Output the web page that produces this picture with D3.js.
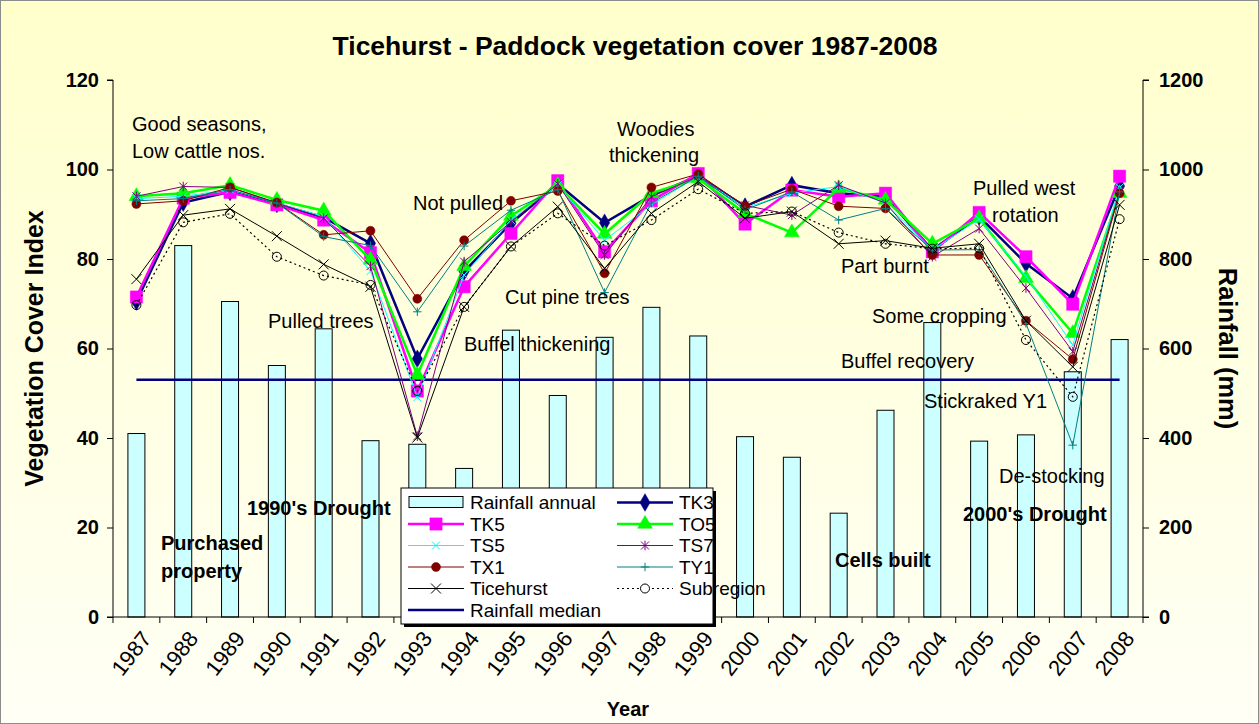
<!DOCTYPE html>
<html>
<head>
<meta charset="utf-8">
<script src="https://cdn.jsdelivr.net/npm/d3@7"></script>
<style>
  body { margin: 0; background: #fff; }
  svg { display: block; }
  text { font-family: "Liberation Sans", Arial, sans-serif; fill: #000; }
</style>
</head>
<body>
<div id="chart"></div>
<script>
// --- Data ---
const years = ['1987','1988','1989','1990','1991','1992','1993','1994','1995','1996','1997',
               '1998','1999','2000','2001','2002','2003','2004','2005','2006','2007','2008'];

// annual rainfall (mm), right axis
const rainfall = [410, 830, 705, 562, 644, 394, 386, 332, 641, 495, 625,
                  692, 628, 403, 357, 232, 462, 658, 393, 407, 548, 620];
const rainfallMedian = 530;

// vegetation cover index, left axis
const tk3 = [70.5, 92.6, 95.0, 92.3, 89.3, 83.5, 57.7, 77.2, 88.0, 96.8, 88.1,
             94.2, 98.5, 91.7, 96.5, 94.7, 93.9, 82.0, 89.5, 79.0, 71.2, 96.3];
const tk5 = [71.5, 93.6, 94.9, 92.1, 88.7, 81.4, 50.5, 73.8, 85.7, 97.5, 81.6,
             93.0, 99.1, 87.8, 95.4, 93.9, 94.7, 81.6, 90.4, 80.5, 69.9, 98.5];
const to5 = [94.0, 94.7, 96.5, 93.2, 90.8, 79.8, 54.1, 78.4, 89.6, 96.5, 85.6,
             94.7, 98.0, 90.2, 85.9, 95.8, 93.2, 83.4, 89.1, 75.7, 63.4, 94.7];
const ts5 = [93.5, 94.0, 95.5, 92.5, 89.5, 77.3, 49.1, 76.4, 88.7, 96.5, 84.2,
             92.1, 98.5, 91.5, 94.7, 96.2, 92.5, 82.0, 88.9, 76.1, 60.8, 96.0];
const ts7 = [94.0, 96.2, 96.0, 92.5, 89.1, 78.4, 40.4, 79.4, 88.3, 96.8, 80.9,
             93.9, 98.5, 92.0, 89.8, 96.5, 92.5, 80.5, 86.8, 73.5, 59.3, 95.0];
const tx1 = [92.3, 93.0, 96.0, 92.6, 85.4, 86.3, 71.1, 84.2, 93.0, 95.2, 76.8,
             96.0, 99.0, 91.8, 95.6, 91.8, 91.3, 80.9, 80.9, 66.2, 57.6, 94.7];
const ty1 = [93.0, 93.5, 95.5, 92.5, 85.0, 83.0, 68.2, 82.9, 90.9, 95.5, 72.5,
             92.5, 98.5, 91.0, 95.0, 88.7, 91.3, 82.0, 82.1, 65.6, 38.4, 95.0];
const ticehurst = [75.5, 89.8, 91.2, 85.1, 78.8, 73.8, 40.1, 69.3, 82.8, 91.7, 77.9,
                   90.2, 97.3, 89.1, 90.6, 83.4, 84.1, 82.4, 83.4, 66.2, 55.9, 92.1];
const subregion = [69.7, 88.2, 90.1, 80.5, 76.3, 74.2, 50.5, 69.3, 82.8, 90.2, 83.0,
                   88.7, 95.6, 90.2, 90.6, 85.9, 83.4, 82.3, 82.4, 61.9, 49.2, 88.9];

const leftTicks = [0, 20, 40, 60, 80, 100, 120];
const rightTicks = [0, 200, 400, 600, 800, 1000, 1200];

// text notes placed on the chart: [text, x, baseline y, bold]
const notes = [
  ['Good seasons,', 132, 131, false],
  ['Low cattle nos.', 132, 158, false],
  ['Pulled trees', 268, 328, false],
  ['Not pulled', 413, 210, false],
  ['Woodies', 617, 136, false],
  ['thickening', 609, 162, false],
  ['Cut pine trees', 505, 304, false],
  ['Buffel thickening', 464, 351, false],
  ['Pulled west', 973, 195, false],
  ['rotation', 992, 222, false],
  ['Part burnt', 841, 273, false],
  ['Some cropping', 872, 323, false],
  ['Buffel recovery', 841, 368, false],
  ['Stickraked Y1', 924, 408, false],
  ['De-stocking', 999, 483, false],
  ['Purchased', 161, 550, true],
  ['property', 161, 578, true],
  ['1990\'s Drought', 247, 515, true],
  ['Cells built', 835, 567, true],
  ['2000\'s Drought', 963, 521, true],
];

// --- Marker shapes (custom symbol types) ---
const symX = { draw(ctx, size) { const r = Math.sqrt(size) / 2;
  ctx.moveTo(-r, -r); ctx.lineTo(r, r); ctx.moveTo(-r, r); ctx.lineTo(r, -r); } };
const symPlus = { draw(ctx, size) { const r = Math.sqrt(size) / 2;
  ctx.moveTo(-r, 0); ctx.lineTo(r, 0); ctx.moveTo(0, -r); ctx.lineTo(0, r); } };
const symStar = { draw(ctx, size) { const r = Math.sqrt(size) / 2;
  ctx.moveTo(-r, -r); ctx.lineTo(r, r); ctx.moveTo(-r, r); ctx.lineTo(r, -r);
  ctx.moveTo(0, -r * 1.2); ctx.lineTo(0, r * 1.2); } };

// series styling
const series = [
  { name: 'TK3', values: tk3, color: '#000080', width: 2.5, sym: d3.symbolDiamond, size: 90, fill: true },
  { name: 'TK5', values: tk5, color: '#FF00FF', width: 2.5, sym: d3.symbolSquare, size: 150, fill: true },
  { name: 'TO5', values: to5, color: '#00FF00', width: 2.5, sym: d3.symbolTriangle, size: 95, fill: true },
  { name: 'TS5', values: ts5, color: '#00FFFF', width: 1, sym: symX, size: 64, fill: false },
  { name: 'TS7', values: ts7, color: '#800080', width: 1, sym: symStar, size: 64, fill: false },
  { name: 'TX1', values: tx1, color: '#800000', width: 1, sym: d3.symbolCircle, size: 64, fill: true },
  { name: 'TY1', values: ty1, color: '#008080', width: 1, sym: symPlus, size: 72, fill: false },
  { name: 'Ticehurst', values: ticehurst, color: '#000000', width: 1, sym: symX, size: 100, fill: false },
  { name: 'Subregion', values: subregion, color: '#000000', width: 1.2, sym: d3.symbolCircle, size: 64, fill: false, dash: '2,3' },
];

const W = 1259, H = 724;
const margin = { top: 80, right: 116, bottom: 107, left: 113 };

const svg = d3.select('#chart').append('svg').attr('width', W).attr('height', H);

// background gradient + frame
const grad = svg.append('defs').append('linearGradient')
  .attr('id', 'bg').attr('x1', 0).attr('y1', 0).attr('x2', 0).attr('y2', 1);
grad.append('stop').attr('offset', '0%').attr('stop-color', '#FFFFCC');
grad.append('stop').attr('offset', '100%').attr('stop-color', '#FFFFF6');
svg.append('rect').attr('x', 0.5).attr('y', 0.5).attr('width', W - 1).attr('height', H - 1)
  .attr('fill', 'url(#bg)').attr('stroke', '#8c8c8c');

// scales
const x = d3.scaleBand().domain(years).range([margin.left, W - margin.right]);
const y = d3.scaleLinear().domain([0, 120]).range([H - margin.bottom, margin.top]);
const yR = d3.scaleLinear().domain([0, 1200]).range([H - margin.bottom, margin.top]);
const cx = d => x(d) + x.bandwidth() / 2;

// --- rainfall bars ---
const barW = 17;
svg.append('g').selectAll('rect').data(years).join('rect')
  .attr('x', d => cx(d) - barW / 2)
  .attr('y', (d, i) => yR(rainfall[i]))
  .attr('width', barW)
  .attr('height', (d, i) => yR(0) - yR(rainfall[i]))
  .attr('fill', '#CCFFFF').attr('stroke', '#000').attr('stroke-width', 1);

// --- axes ---
const axisFont = g => g.selectAll('text')
  .style('font-size', '20px').style('font-weight', 'bold');

svg.append('g').attr('transform', `translate(${margin.left},0)`)
  .call(d3.axisLeft(y).tickValues(leftTicks).tickSize(6).tickPadding(8))
  .call(axisFont)
  .call(g => g.select('.domain').attr('d', `M-6,${y(120)}H0V${y(0)}H-6`));

svg.append('g').attr('transform', `translate(${W - margin.right},0)`)
  .call(d3.axisRight(yR).tickValues(rightTicks).tickFormat(d3.format('d')).tickSize(6).tickPadding(10))
  .call(axisFont)
  .call(g => g.select('.domain').attr('d', `M6,${yR(1200)}H0V${yR(0)}H6`));

// bottom axis: ticks at category edges, labels rotated
const xAxisG = svg.append('g').attr('transform', `translate(0,${y(0)})`);
xAxisG.append('line').attr('x1', margin.left).attr('x2', W - margin.right)
  .attr('stroke', '#000');
xAxisG.selectAll('line.tick').data(years.concat(['end'])).join('line').attr('class', 'tick')
  .attr('x1', (d, i) => i < years.length ? x(d) : x(years[years.length - 1]) + x.bandwidth())
  .attr('x2', (d, i) => i < years.length ? x(d) : x(years[years.length - 1]) + x.bandwidth())
  .attr('y1', 0).attr('y2', 6).attr('stroke', '#000');
xAxisG.selectAll('text').data(years).join('text')
  .attr('transform', d => `translate(${cx(d) + 10},${17}) rotate(-52)`)
  .attr('text-anchor', 'end').attr('dy', '0.35em')
  .style('font-size', '22px').text(d => d);

// --- lines ---
const line = vals => d3.line().x((d, i) => cx(years[i])).y(d => y(d))(vals);

// median line first (sits under the series)
const medianVals = years.map(() => rainfallMedian);
svg.append('path')
  .attr('d', d3.line().x((d, i) => cx(years[i])).y(d => yR(d))(medianVals))
  .attr('fill', 'none').attr('stroke', '#000080').attr('stroke-width', 2.5);

series.forEach(s => {
  const g = svg.append('g');
  g.append('path').attr('d', line(s.values))
    .attr('fill', 'none').attr('stroke', s.color).attr('stroke-width', s.width)
    .attr('stroke-dasharray', s.dash || null);
  g.selectAll('path.m').data(s.values).join('path').attr('class', 'm')
    .attr('transform', (d, i) => `translate(${cx(years[i])},${y(d)})`)
    .attr('d', d3.symbol(s.sym, s.size))
    .attr('fill', s.fill ? s.color : 'none')
    .attr('stroke', s.color).attr('stroke-width', s.fill ? 0.5 : 1);
});

// --- titles ---
svg.append('text').attr('x', 635).attr('y', 55).attr('text-anchor', 'middle')
  .style('font-size', '26.5px').style('font-weight', 'bold')
  .text('Ticehurst - Paddock vegetation cover 1987-2008');

svg.append('text').attr('transform', `translate(43,${(y(0) + y(120)) / 2}) rotate(-90)`)
  .attr('text-anchor', 'middle').style('font-size', '25px').style('font-weight', 'bold')
  .text('Vegetation Cover Index');

svg.append('text').attr('transform', `translate(1219,${(y(0) + y(120)) / 2}) rotate(90)`)
  .attr('text-anchor', 'middle').style('font-size', '25.5px').style('font-weight', 'bold')
  .text('Rainfall (mm)');

svg.append('text').attr('x', 628).attr('y', 716).attr('text-anchor', 'middle')
  .style('font-size', '20px').style('font-weight', 'bold').text('Year');

// --- annotations ---
svg.append('g').selectAll('text').data(notes).join('text')
  .attr('x', d => d[1]).attr('y', d => d[2])
  .style('font-size', '20px')
  .style('font-weight', d => d[3] ? 'bold' : 'normal')
  .text(d => d[0]);

// --- legend ---
const legend = svg.append('g').attr('transform', 'translate(401,488)');
legend.append('rect').attr('x', 3).attr('y', 3).attr('width', 312).attr('height', 136).attr('fill', '#000');
legend.append('rect').attr('width', 312).attr('height', 136).attr('fill', '#fff').attr('stroke', '#000');

const legendItems = [
  { name: 'Rainfall annual', bar: true },
  series[0], series[1], series[2], series[3], series[4], series[5], series[6], series[7], series[8],
  { name: 'Rainfall median', color: '#000080', width: 2.5 },
];
legendItems.forEach((it, k) => {
  const col = k % 2, row = Math.floor(k / 2);
  const g = legend.append('g').attr('transform', `translate(${col ? 216 : 7},${14.5 + row * 21.5})`);
  if (it.bar) {
    g.append('rect').attr('x', 1).attr('y', -6).attr('width', 54).attr('height', 11)
      .attr('fill', '#CCFFFF').attr('stroke', '#000');
  } else {
    g.append('line').attr('x1', 0).attr('x2', 56).attr('stroke', it.color)
      .attr('stroke-width', it.width).attr('stroke-dasharray', it.dash || null);
    if (it.sym) {
      g.append('path').attr('transform', 'translate(28,0)')
        .attr('d', d3.symbol(it.sym, it.size))
        .attr('fill', it.fill ? it.color : '#fff')
        .attr('stroke', it.color).attr('stroke-width', it.fill ? 0.5 : 1);
    }
  }
  g.append('text').attr('x', 62).attr('dy', '0.35em').style('font-size', '19px').text(it.name);
});
</script>
</body>
</html>
